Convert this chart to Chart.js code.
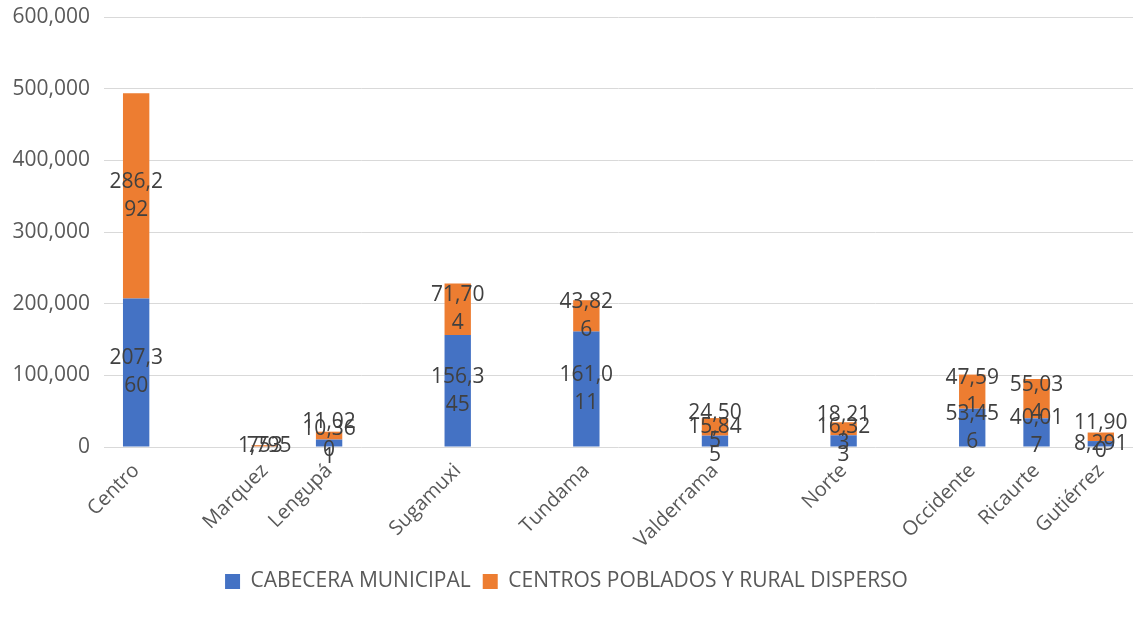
<!DOCTYPE html>
<html>
<head>
<meta charset="utf-8">
<script src="https://cdn.jsdelivr.net/npm/chart.js@4.4.1/dist/chart.umd.min.js"></script>
<style>
  html, body { margin: 0; padding: 0; background: #fff; overflow: hidden; }
  #wrap { position: relative; width: 1133px; height: 622px; }
</style>
</head>
<body>
<div id="wrap"><canvas id="chart"></canvas></div>
<script>
// provinces (empty slots are the gaps between bars in the original)
var provincias = ["Centro", "", "Marquez", "Lengupá", "", "Sugamuxi", "", "Tundama", "",
  "Valderrama", "", "Norte", "", "Occidente", "Ricaurte", "Gutiérrez"];
var cabecera = [207360, null, 753, 10361, null, 156345, null, 161011, null,
  15845, null, 16323, null, 53456, 40017, 8291];
var rural = [286292, null, 1795, 11020, null, 71704, null, 43826, null,
  24505, null, 18213, null, 47591, 55034, 11900];
var yTicks = [0, 100000, 200000, 300000, 400000, 500000, 600000];

var FONT = "'Open Sans', 'Liberation Sans', sans-serif";
var GREY = "#595959";

function fmt(v) {
  return Number(v).toLocaleString("en-US");
}

// Excel-like data labels: centred in each segment, wrapped every 5 chars
var barLabels = {
  id: "barLabels",
  afterDatasetsDraw: function (chart) {
    var ctx = chart.ctx;
    ctx.save();
    ctx.font = "21px " + FONT;
    ctx.fillStyle = "#404040";
    ctx.textAlign = "center";
    ctx.textBaseline = "middle";
    chart.data.datasets.forEach(function (ds, i) {
      var meta = chart.getDatasetMeta(i);
      meta.data.forEach(function (bar, j) {
        var v = ds.data[j];
        if (v == null) return;
        var txt = fmt(v);
        var lines = [];
        for (var k = 0; k < txt.length; k += 5) lines.push(txt.slice(k, k + 5));
        var lh = 28;
        var cy = (bar.y + bar.base) / 2 - (lines.length - 1) * lh / 2;
        lines.forEach(function (ln, n) {
          ctx.fillText(ln, bar.x, cy + n * lh);
        });
      });
    });
    ctx.restore();
  }
};

new Chart(document.getElementById("chart").getContext("2d"), {
  type: "bar",
  data: {
    labels: provincias,
    datasets: [
      {
        label: "CABECERA MUNICIPAL",
        data: cabecera,
        backgroundColor: "#4472C4",
        barPercentage: 0.41,
        categoryPercentage: 1
      },
      {
        label: "CENTROS POBLADOS Y RURAL DISPERSO",
        data: rural,
        backgroundColor: "#ED7D31",
        barPercentage: 0.41,
        categoryPercentage: 1
      }
    ]
  },
  options: {
    responsive: true,
    maintainAspectRatio: false,
    animation: false,
    layout: { padding: { top: 17, left: 0, right: 0, bottom: 20 } },
    plugins: {
      tooltip: { enabled: false },
      legend: {
        position: "bottom",
        labels: {
          font: { size: 21, family: FONT },
          color: GREY,
          boxWidth: 15,
          boxHeight: 15,
          padding: 12
        }
      }
    },
    scales: {
      x: {
        stacked: true,
        grid: { display: false },
        border: { display: false },
        ticks: {
          autoSkip: false,
          minRotation: 45,
          maxRotation: 45,
          color: GREY,
          font: { size: 20, family: FONT },
          padding: 4
        },
        afterFit: function (s) { s.height = 112; }
      },
      y: {
        stacked: true,
        min: 0,
        max: 600000,
        border: { display: false },
        grid: { color: "#d9d9d9", drawTicks: false },
        afterBuildTicks: function (s) {
          s.ticks = yTicks.map(function (v) { return { value: v }; });
        },
        ticks: {
          color: GREY,
          font: { size: 21, family: FONT },
          padding: 14,
          callback: function (v) { return fmt(v); }
        },
        afterFit: function (s) {
          s.width = 104;
          s.paddingTop = 0;
          s.paddingBottom = 0;
        }
      }
    }
  },
  plugins: [barLabels]
});
</script>
</body>
</html>
